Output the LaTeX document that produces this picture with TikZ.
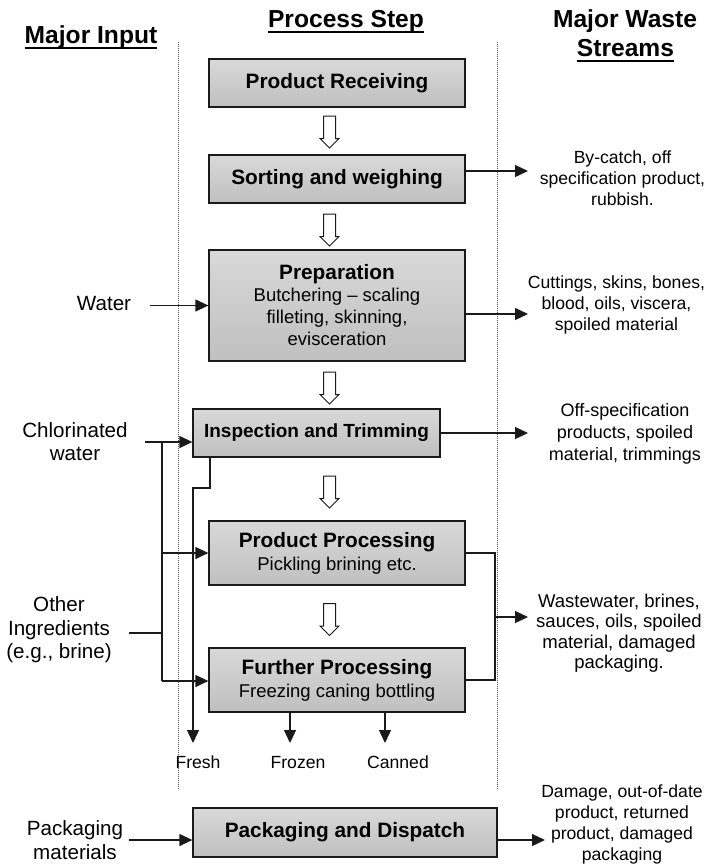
\documentclass[tikz,border=0pt]{standalone}
\usepackage{fontspec}
\setmainfont{Liberation Sans}
\usetikzlibrary{arrows.meta,shapes.arrows}
\definecolor{ink}{HTML}{1A1A1A}
\definecolor{guide}{HTML}{555555}
\newcommand\stagetitle[1]{{\fontsize{20.8}{23}\selectfont\bfseries #1}}
\begin{document}
\begin{tikzpicture}[x=1pt,y=-1pt,
  intxt/.style={font=\fontsize{20.6}{23.5}\selectfont, align=center, inner sep=0pt, text=black},
  outtxt/.style={font=\fontsize{17.6}{21}\selectfont, align=center, inner sep=0pt, text=black},
  prodtxt/.style={font=\fontsize{17.6}{21}\selectfont, inner sep=0pt, anchor=base, text=black},
  head/.style={font=\fontsize{24.6}{28}\selectfont\bfseries, inner sep=0pt, anchor=base, text=black},
  uline/.style={line width=1.6pt, draw=black},
  stage/.style={draw=ink, line width=1.3pt, top color=gray!30, middle color=white, bottom color=gray!50,
    inner sep=0pt, align=center, font=\fontsize{18.5}{23}\selectfont, text=black},
  hollow/.style={single arrow, draw=ink, line width=1pt, fill=white, rotate=-90,
    minimum height=32pt, inner xsep=0pt, inner ysep=5.5pt, single arrow head extend=3.5pt,
    single arrow tip angle=90},
  flow/.style={draw=ink, line width=1.3pt},
  arr/.style={flow, -{Triangle[length=13pt,width=12pt]}},
  guideline/.style={draw=guide, line width=0.8pt, dash pattern=on 1pt off 1pt}
]
\useasboundingbox (0,0) rectangle (706,868);

% column headings
\node[head] (hin) at (91,43) {Major Input};
\draw[uline] ([yshift=-5pt]hin.base west) -- ([yshift=-5pt]hin.base east);
\node[head] (hstep) at (346,27) {Process Step};
\draw[uline] ([yshift=-5pt]hstep.base west) -- ([yshift=-5pt]hstep.base east);
\node[head] (hwaste) at (625,27) {Major Waste};
\node[head] (hstream) at (625.5,56) {Streams};
\draw[uline] ([yshift=-5pt]hstream.base west) -- ([yshift=-5pt]hstream.base east);

% column separators
\coordinate (gl1) at (178,42); \coordinate (gl2) at (178,790);
\coordinate (gr1) at (497,42); \coordinate (gr2) at (497,790);
\draw[guideline] (gl1) -- (gl2);
\draw[guideline] (gr1) -- (gr2);

% process steps
\node[stage, minimum width=256pt, minimum height=48pt] (recv) at (337,83) {\stagetitle{Product Receiving}};
\node[stage, minimum width=256pt, minimum height=48pt] (sort) at (337,179) {\stagetitle{Sorting and weighing}};
\node[stage, minimum width=256pt, minimum height=111pt] (prep) at (337,305.5)
  {\stagetitle{Preparation}\\[-1pt] Butchering -- scaling\\[-1pt] filleting, skinning,\\[-1pt] evisceration};
\node[stage, minimum width=247pt, minimum height=48pt] (insp) at (316.5,433)
  {{\fontsize{19}{23}\selectfont\bfseries Inspection and Trimming}};
\node[stage, minimum width=256pt, minimum height=64pt] (pproc) at (337,553) {\stagetitle{Product Processing}\\ Pickling brining etc.};
\node[stage, minimum width=256pt, minimum height=64pt] (fproc) at (337,680) {\stagetitle{Further Processing}\\ Freezing caning bottling};
\node[stage, minimum width=304pt, minimum height=49pt] (pack) at (345,832.5) {\stagetitle{Packaging and Dispatch}};

% hollow step arrows
\node[hollow] (h1) at (329.5,129) {};
\node[hollow] (h2) at (329.5,227) {};
\node[hollow] (h3) at (329.5,385) {};
\node[hollow] (h4) at (329.5,489) {};
\node[hollow] (h5) at (329.5,616.5) {};

% inputs
\node[intxt] (water) at (104,304) {Water};
\node[intxt] (chl) at (75,441.5) {Chlorinated\\ water};
\node[intxt] (other) at (59,630) {Other\\ Ingredients\\ (e.g., brine)};
\node[intxt] (pmat) at (75,840) {Packaging\\ materials};

\coordinate (wst) at (150,305.5);
\draw[arr] (wst) -- (prep.west);

\coordinate (cst) at (145,442);
\coordinate (bus1) at (162,442);
\coordinate (bus2) at (162,681);
\coordinate (ost) at (129,633);
\draw[arr] (cst) -- (cst -| insp.west);
\draw[flow] (bus1) -- (bus2);
\draw[flow] (ost) -- (ost -| bus1);
\draw[arr] (bus1 |- pproc.west) -- (pproc.west);
\draw[arr] (bus2) -- (bus2 -| fproc.west);

\coordinate (pst) at (129,840);
\draw[arr] (pst) -- (pst -| pack.west);

% products
\node[prodtxt] (fresh) at (198,768) {Fresh};
\node[prodtxt] (frozen) at (298,768) {Frozen};
\node[prodtxt] (canned) at (398,768) {Canned};
\coordinate (tfresh) at (193,743);
\coordinate (tfroz) at (290,743);
\coordinate (tcan) at (385,743);
\coordinate (fr1) at (210,488);
\draw[arr] (fr1 |- insp.south) -- (fr1) -- (fr1 -| tfresh) -- (tfresh);
\draw[arr] (tfroz |- fproc.south) -- (tfroz);
\draw[arr] (tcan |- fproc.south) -- (tcan);

% waste streams
\node[outtxt] (w1) at (622.5,178) {By-catch, off\\ specification product,\\ rubbish.};
\node[outtxt] (w2) at (616.5,305) {Cuttings, skins, bones,\\ blood, oils, viscera,\\ spoiled material};
\node[outtxt, font=\fontsize{18}{22}\selectfont] (w3) at (625,434) {Off-specification\\ products, spoiled\\ material, trimmings};
\node[outtxt, font=\fontsize{18.5}{20.5}\selectfont] (w4) at (619,633) {Wastewater, brines,\\ sauces, oils, spoiled\\ material, damaged\\ packaging.};
\node[outtxt] (w5) at (622,824) {Damage, out-of-date\\ product, returned\\ product, damaged\\ packaging};

\coordinate (t1) at (528,171);
\coordinate (t2) at (528,314);
\coordinate (t3) at (528,433);
\coordinate (t4) at (528,617);
\coordinate (t5) at (545,840);
\coordinate (br) at (495,617);
\draw[arr] (t1 -| sort.east) -- (t1);
\draw[arr] (t2 -| prep.east) -- (t2);
\draw[arr] (t3 -| insp.east) -- (t3);
\draw[flow] (pproc.east) -- (pproc.east -| br) -- (fproc.east -| br) -- (fproc.east);
\draw[arr] (br) -- (t4);
\draw[arr] (t5 -| pack.east) -- (t5);
\end{tikzpicture}
\end{document}
